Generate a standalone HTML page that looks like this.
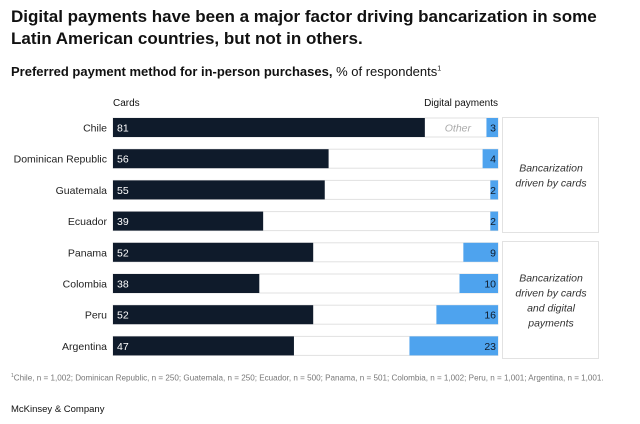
<!DOCTYPE html>
<html><head><meta charset="utf-8"><style>
body{margin:0;background:#fff;font-family:"Liberation Sans",sans-serif;}
#wrap{position:relative;width:640px;height:424px;overflow:hidden;}
.t{position:absolute;white-space:nowrap;}
</style></head><body>
<div id="wrap">
<div class="t" style="left:11px;top:6px;font-size:17px;font-weight:bold;line-height:22px;color:#111;">Digital payments have been a major factor driving bancarization in some<br>Latin American countries, but not in others.</div>
<div class="t" style="left:11px;top:64px;font-size:13px;color:#111;"><b>Preferred payment method for in-person purchases,</b> % of respondents<sup style="font-size:7px">1</sup></div>
<svg id="svg" width="640" height="424" style="position:absolute;left:0;top:0"></svg>
<div class="t" style="left:11px;top:373px;font-size:8.1px;color:#777;"><sup style="font-size:5px">1</sup>Chile, n = 1,002; Dominican Republic, n = 250; Guatemala, n = 250; Ecuador, n = 500; Panama, n = 501; Colombia, n = 1,002; Peru, n = 1,001; Argentina, n = 1,001.</div>
<div class="t" style="left:11px;top:404px;font-size:9.5px;color:#111;">McKinsey &amp; Company</div>
</div>
<script>
const countries=["Chile","Dominican Republic","Guatemala","Ecuador","Panama","Colombia","Peru","Argentina"];
const cards=[81,56,55,39,52,38,52,47];
const digital=[3,4,2,2,9,10,16,23];
const svg=document.getElementById('svg');
const NS='http://www.w3.org/2000/svg';
const x0=113,W=385,y0=118,step=31.2,bh=19;
const xs=v=>x0+v/100*W;
function mk(tag,attrs,txt){const e=document.createElementNS(NS,tag);for(const k in attrs)e.setAttribute(k,attrs[k]);if(txt!=null)e.textContent=txt;svg.appendChild(e);return e;}
let h=mk('text',{x:113,y:106,'font-size':10,fill:'#111'},'Cards');


h=mk('text',{x:498,y:106,'font-size':10,fill:'#111','text-anchor':'end'},'Digital payments');


countries.forEach((c,i)=>{
 const y=y0+i*step;
 let e=mk('rect',{x:x0,y:y,width:W,height:bh,fill:'#fff',stroke:'#e2e2e2','stroke-width':1});
 
 
 e=mk('rect',{x:x0,y:y,width:xs(cards[i])-x0,height:bh,fill:'#0f1b2b'});
 
 
 e=mk('rect',{x:xs(100-digital[i]),y:y,width:xs(digital[i])-x0,height:bh,fill:'#4ea3ee'});
 
 
 e=mk('text',{x:x0+4,y:y+13.5,'font-size':10.5,fill:'#fff'},cards[i]);
 
 
 e=mk('text',{x:x0+W-2,y:y+13.5,'font-size':10.5,fill:'#0f1b2b','text-anchor':'end'},digital[i]);
 
 
 e=mk('text',{x:107,y:y+13.5,'font-size':10.5,fill:'#222','text-anchor':'end'},c);
 
 
});
let o=mk('text',{x:471,y:y0+13.5,'font-size':10.5,fill:'#aaa','font-style':'italic','text-anchor':'end'},'Other');


let b=mk('rect',{x:502.5,y:117.5,width:96,height:115,fill:'none',stroke:'#e2e2e2'});


b=mk('rect',{x:502.5,y:241.5,width:96,height:117,fill:'none',stroke:'#e2e2e2'});


[["Bancarization","driven by cards"],["Bancarization","driven by cards","and digital","payments"]].forEach((ls,g)=>{
 const cy=g==0?175:300; const sy=cy-(ls.length-1)*7.5+4;
 ls.forEach((l,k)=>{const t=mk('text',{x:551,y:sy+k*15,'font-size':10.5,fill:'#333','font-style':'italic','text-anchor':'middle'},l);
 
 });
});
</script>
</body></html>
